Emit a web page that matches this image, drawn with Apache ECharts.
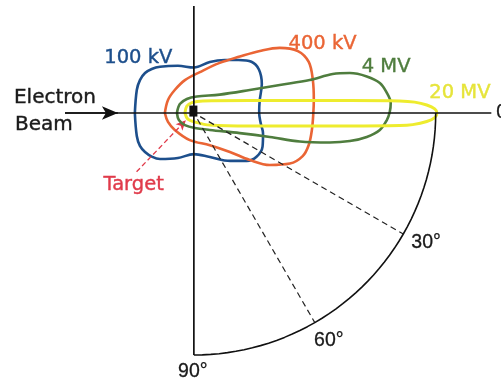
<!DOCTYPE html>
<html>
<head>
<meta charset="utf-8">
<script src="https://cdn.jsdelivr.net/npm/echarts@6/dist/echarts.min.js"></script>
<style>
  html, body { margin: 0; padding: 0; background: #ffffff; }
  #chart { width: 501px; height: 381px; }
</style>
</head>
<body>
<div id="chart"></div>
<script>
// Bremsstrahlung emission lobes around the target (origin), electron beam arriving from the left.
// Coordinates are in units of the reference arc radius (arc = 100); +x along the beam, +y upward.
const lobe100kV = [
  [-24.4, 0], [-23.6, 9.5], [-22.3, 13.6], [-20.2, 16.5], [-17.4, 18.2], [-14.0, 19.1], [-6.6, 19.5], [0, 18.8],
  [6.6, 21.1], [12.8, 21.9], [18.5, 21.9], [23.8, 21.2], [26.9, 18.0], [28.1, 12.0], [27.2, 5.0],
  [27.0, 0], [27.6, -4.0], [28.6, -8.5], [28.4, -13.9], [25.9, -18.1], [21.9, -19.8], [15.0, -19.8],
  [6.6, -18.2], [0, -17.0], [-6.6, -18.6], [-14.0, -19.0], [-17.4, -18.0], [-20.2, -16.1], [-22.3, -13.6],
  [-23.6, -9.5], [-24.4, 0]
];
const lobe400kV = [
  [-12.0, 0], [-10.7, 5.4], [-7.9, 9.5], [-3.7, 13.6], [2.5, 16.9], [10.7, 20.7], [19.0, 23.3],
  [27.3, 25.6], [35.5, 26.9], [43.0, 25.6], [47.5, 21.1], [49.2, 13.6], [49.6, 5.4], [49.4, 0],
  [48.8, -7.0], [47.5, -13.2], [45.0, -17.8], [39.7, -20.9], [31.4, -21.5], [23.1, -19.4],
  [14.9, -16.1], [6.6, -13.3], [-1.7, -11.2], [-7.9, -7.0], [-10.7, -3.7], [-12.0, 0]
];
const lobe4MV = [
  [-7.0, 0], [-5.8, 3.7], [-2.9, 5.8], [1.2, 6.8], [10.7, 7.6], [23.1, 9.5], [35.5, 11.6],
  [47.9, 13.6], [57.4, 16.1], [64.5, 16.5], [71.5, 15.1], [76.9, 12.4], [79.8, 8.3], [81.4, 4.1],
  [81.0, 0.4], [79.8, -2.9], [76.9, -7.0], [71.5, -9.9], [64.5, -11.6], [56.2, -12.2],
  [43.8, -11.8], [31.4, -9.9], [19.0, -8.3], [6.6, -7.0], [0.4, -6.2], [-3.7, -5.0], [-6.2, -2.9],
  [-7.0, 0]
];
const lobe20MV = [
  [-3.7, 0], [-2.9, 2.9], [-0.8, 4.3], [3.7, 5.0], [23.1, 5.2], [43.8, 5.2], [64.5, 5.2],
  [85.1, 5.0], [91.3, 4.5], [96.3, 3.3], [99.6, 1.7], [100.5, 0], [99.6, -1.9], [96.3, -3.5],
  [90.5, -4.8], [85.1, -5.2], [64.5, -5.4], [43.8, -5.4], [23.1, -5.4], [6.6, -5.0], [0.4, -3.7],
  [-2.5, -2.5], [-3.7, 0]
];
const lobeNames = ['100 kV', '400 kV', '4 MV', '20 MV'];
const lobeColors = ['#1d4f8c', '#ea6535', '#4f7d3e', '#eeec2e'];
const lobeTextColors = ['#1d4f8c', '#ea6535', '#4f7d3e', '#e6e43a'];
const lobeLabelAt = [[-23.0, 22.6], [53.2, 28.6], [79.5, 19.0], [110.0, 8.3]];

// Angle scale: quarter arc with tick labels, dashed radials at 30° and 60°.
const arcRadius = 100;
const angleTicks = [0, 30, 60, 90];
const angleTickLabels = ['0°', '30°', '60°', '90°'];
const dashedAngles = [30, 60];

// Beam axis and vertical reference axis extents.
const beamAxis = [[-53.3, 0], [123, 0]];
const beamArrow = [[-53.3, 0], [-31.4, 0]];
const verticalAxis = [[0, 44.2], [0, -100]];
const targetPointer = [[-23.7, -24.3], [-3.3, -3.0]];

const S = 2.42; // pixels per unit
const X_MIN = -80, X_MAX = 127, Y_MIN = -110.5, Y_MAX = 46.5;

const polar = (r, deg) => [r * Math.cos(deg * Math.PI / 180), -r * Math.sin(deg * Math.PI / 180)];

const arcPoints = [];
for (let a = 0; a <= 90; a += 2) arcPoints.push(polar(arcRadius, a));

const chart = echarts.init(document.getElementById('chart'), null, { renderer: 'canvas' });

const series = [];

// Lobes
[lobe100kV, lobe400kV, lobe4MV, lobe20MV].forEach((d, i) => {
  series.push({
    name: lobeNames[i], type: 'line', data: d, smooth: 0.35, showSymbol: false, symbol: 'none',
    lineStyle: { color: lobeColors[i], width: i === 3 ? 3 : 2.6, cap: 'round', join: 'round' },
    z: 3 + i, silent: true, animation: false
  });
});

// Axes
series.push({
  type: 'line', data: beamAxis, symbol: 'none', silent: true, animation: false, z: 10,
  lineStyle: { color: '#111', width: 1.7 },
  markLine: {
    silent: true, animation: false, symbol: ['none', 'arrow'], symbolSize: [10, 16],
    label: { show: false },
    lineStyle: { color: '#111', width: 1.7, type: 'solid' },
    data: [[{ coord: beamArrow[0] }, { coord: beamArrow[1] }]]
  }
});
series.push({
  type: 'line', data: verticalAxis, symbol: 'none', silent: true, animation: false, z: 10,
  lineStyle: { color: '#111', width: 1.7 }
});

// Arc and dashed radials
series.push({
  type: 'line', data: arcPoints, symbol: 'none', smooth: false, silent: true, animation: false, z: 10,
  lineStyle: { color: '#111', width: 1.6 }
});
dashedAngles.forEach(a => {
  series.push({
    type: 'line', data: [polar(3, a), polar(arcRadius, a)], symbol: 'none', silent: true, animation: false, z: 9,
    lineStyle: { color: '#222', width: 1.2, type: [6, 4] }
  });
});

// Target pointer
series.push({
  type: 'line', data: [], symbol: 'none', silent: true, animation: false, z: 11,
  markLine: {
    silent: true, animation: false, symbol: ['none', 'arrow'], symbolSize: [7, 10],
    label: { show: false },
    lineStyle: { color: '#e03a4a', width: 1.3, type: [5, 3] },
    data: [[{ coord: targetPointer[0] }, { coord: targetPointer[1] }]]
  }
});

// Target block
series.push({
  type: 'scatter', data: [[-0.2, 0.8]], symbol: 'rect', symbolSize: [8, 11], silent: true, animation: false, z: 12,
  itemStyle: { color: '#111', opacity: 1 }
});

// Text annotations
const textFont = (color, size) => ({
  fontFamily: 'DejaVu Sans', fontSize: size, color: color,
  textBorderColor: color, textBorderWidth: 0.4
});
const notes = [];
lobeNames.forEach((n, i) => notes.push({
  value: lobeLabelAt[i], label: { formatter: n, align: 'center', ...textFont(lobeTextColors[i], 19.5) }
}));
notes.push({ value: [-74.4, 6.1], label: { formatter: 'Electron', align: 'left', ...textFont('#1a1a1a', 20) } });
notes.push({ value: [-74.0, -4.9], label: { formatter: 'Beam', align: 'left', ...textFont('#1a1a1a', 20) } });
notes.push({ value: [-24.9, -29.6], label: { formatter: 'Target', align: 'center', ...textFont('#e03a4a', 19.5) } });

const tickOffsets = [[5, 0], [8, 9], [14, 18.5], [-1, 16.5]];
const tickAligns = ['left', 'left', 'center', 'center'];
angleTicks.forEach((a, i) => {
  const r = a === 0 ? beamAxis[1][0] : arcRadius;
  notes.push({
    value: polar(r, a),
    label: {
      formatter: angleTickLabels[i], align: tickAligns[i], position: tickOffsets[i],
      fontFamily: 'Liberation Sans', fontSize: 19.5, color: '#1a1a1a',
      textBorderColor: '#1a1a1a', textBorderWidth: 0.3
    }
  });
});

series.push({
  type: 'scatter', data: notes, symbolSize: 0, silent: true, animation: false, z: 20, clip: false,
  itemStyle: { opacity: 1 },
  label: { show: true, position: [0, 0], verticalAlign: 'middle' }
});

chart.setOption({
  animation: false,
  backgroundColor: '#ffffff',
  grid: { left: 194 + X_MIN * S, top: 113 - Y_MAX * S, width: (X_MAX - X_MIN) * S, height: (Y_MAX - Y_MIN) * S, containLabel: false },
  xAxis: { type: 'value', min: X_MIN, max: X_MAX, show: false },
  yAxis: { type: 'value', min: Y_MIN, max: Y_MAX, show: false },
  series: series
});
</script>
</body>
</html>
